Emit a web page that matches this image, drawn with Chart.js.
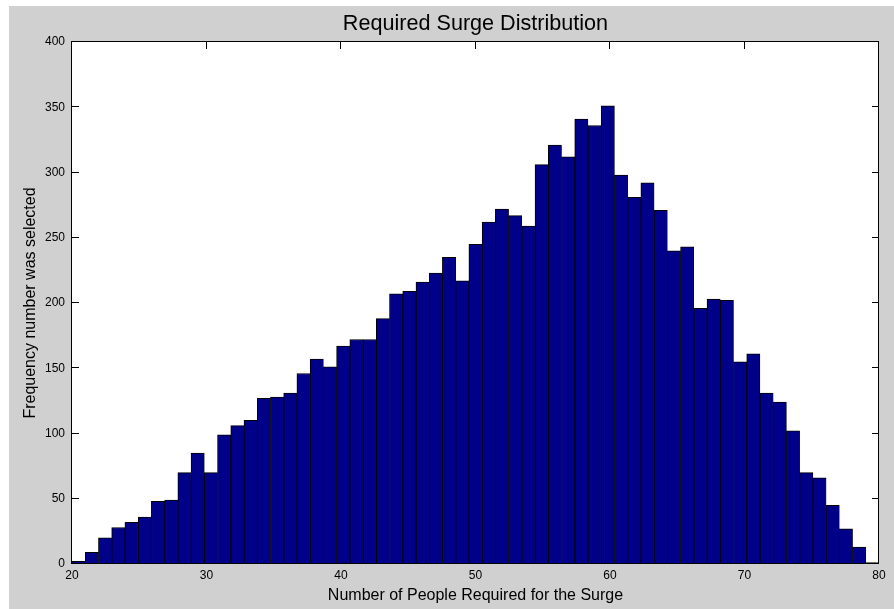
<!DOCTYPE html>
<html>
<head>
<meta charset="utf-8">
<title>Required Surge Distribution</title>
<script src="https://cdn.jsdelivr.net/npm/chart.js@4.4.1/dist/chart.umd.min.js"></script>
<style>
  html, body { margin: 0; padding: 0; background: #fff; }
  #wrap { position: absolute; left: 9px; top: 6px; width: 885px; height: 603px; background: #d0d0d0; }
</style>
</head>
<body>
<div id="wrap"><canvas id="chart" width="885" height="603"></canvas></div>
<script>
// number of people (one histogram bin per value)
const people = [20, 21, 22, 23, 24, 25, 26, 27, 28, 29,
                30, 31, 32, 33, 34, 35, 36, 37, 38, 39,
                40, 41, 42, 43, 44, 45, 46, 47, 48, 49,
                50, 51, 52, 53, 54, 55, 56, 57, 58, 59,
                60, 61, 62, 63, 64, 65, 66, 67, 68, 69,
                70, 71, 72, 73, 74, 75, 76, 77, 78, 79, 80];
// how often each number was selected
const counts = [2, 9, 20, 28, 32, 36, 48, 49, 70, 85,
                70, 99, 106, 110, 127, 128, 131, 146, 157, 151,
                167, 172, 172, 188, 207, 209, 216, 223, 235, 217,
                245, 262, 272, 267, 259, 306, 321, 312, 341, 336,
                351, 298, 281, 292, 271, 240, 243, 196, 203, 202,
                155, 161, 131, 124, 102, 70, 66, 45, 27, 13, 1];
const xTicks = [20, 30, 40, 50, 60, 70, 80];
const yTicks = [0, 50, 100, 150, 200, 250, 300, 350, 400];

// hist() style bins: 61 equal bins spread over the data range
const xMin = people[0], xMax = people[people.length - 1];
const binWidth = (xMax - xMin) / people.length;
const points = people.map((p, i) => ({ x: xMin + (i + 0.5) * binWidth, y: counts[i] }));

const FONT = "'Liberation Sans', Arial, sans-serif";

// white axes box, inward tick marks and black frame like MATLAB
const matlabAxes = {
  id: 'matlabAxes',
  beforeDraw(chart) {
    const { ctx, chartArea: a } = chart;
    ctx.save();
    ctx.fillStyle = '#ffffff';
    ctx.fillRect(a.left, a.top, a.right - a.left, a.bottom - a.top);
    ctx.restore();
  },
  beforeDatasetsDraw(chart) {
    const { ctx, chartArea: a, scales: { x, y } } = chart;
    const len = 7;
    ctx.save();
    ctx.strokeStyle = '#000';
    ctx.lineWidth = 1;
    ctx.beginPath();
    x.ticks.forEach(t => {
      const px = Math.round(x.getPixelForValue(t.value)) - 0.5;
      ctx.moveTo(px, a.top); ctx.lineTo(px, a.top + len);
      ctx.moveTo(px, a.bottom); ctx.lineTo(px, a.bottom - len);
    });
    y.ticks.forEach(t => {
      const py = Math.round(y.getPixelForValue(t.value)) - 0.5;
      ctx.moveTo(a.left, py); ctx.lineTo(a.left + len, py);
      ctx.moveTo(a.right, py); ctx.lineTo(a.right - len, py);
    });
    ctx.stroke();
    ctx.restore();
  },
  afterDatasetsDraw(chart) {
    const { ctx, chartArea: a } = chart;
    ctx.save();
    ctx.strokeStyle = '#000';
    ctx.lineWidth = 1;
    ctx.strokeRect(Math.round(a.left) - 0.5, Math.round(a.top) - 0.5,
                   Math.round(a.right - a.left), Math.round(a.bottom - a.top));
    ctx.restore();
  }
};

new Chart(document.getElementById('chart'), {
  type: 'bar',
  data: {
    datasets: [{
      label: 'Frequency',
      data: points,
      backgroundColor: '#000088',
      borderColor: '#000000',
      borderWidth: { top: 1, left: 1, right: 0.6, bottom: 0 },
      borderSkipped: false,
      barPercentage: 1,
      categoryPercentage: 1
    }]
  },
  options: {
    responsive: false,
    animation: false,
    layout: { padding: { top: 0, right: 15, bottom: 0, left: 0 } },
    plugins: {
      legend: { display: false },
      tooltip: { enabled: false },
      title: {
        display: true,
        fullSize: false,
        text: 'Required Surge Distribution',
        color: '#000',
        font: { family: FONT, size: 21.6, weight: 'normal', lineHeight: 1.2 },
        padding: { top: 5, bottom: 5.08 }
      }
    },
    scales: {
      x: {
        type: 'linear',
        min: xMin,
        max: xMax,
        offset: false,
        grid: { display: false, drawTicks: false, offset: false },
        border: { display: false },
        afterBuildTicks: s => { s.ticks = xTicks.map(v => ({ value: v })); },
        ticks: { color: '#000', padding: 4, maxRotation: 0, font: { family: FONT, size: 12 } },
        title: {
          display: true,
          text: 'Number of People Required for the Surge',
          color: '#000',
          font: { family: FONT, size: 16, lineHeight: 1.2 },
          padding: { top: 0, bottom: 4 }
        },
        afterFit: s => { s.height = 45; }
      },
      y: {
        min: 0,
        max: 400,
        grid: { display: false, drawTicks: false },
        border: { display: false },
        afterBuildTicks: s => { s.ticks = yTicks.map(v => ({ value: v })); },
        ticks: { color: '#000', padding: 7, font: { family: FONT, size: 12 } },
        title: {
          display: true,
          text: 'Frequency number was selected',
          color: '#000',
          font: { family: FONT, size: 16, lineHeight: 1.2 },
          padding: { top: 12, bottom: 0 }
        },
        afterFit: s => { s.width = 63; }
      }
    }
  },
  plugins: [matlabAxes]
});
</script>
</body>
</html>
